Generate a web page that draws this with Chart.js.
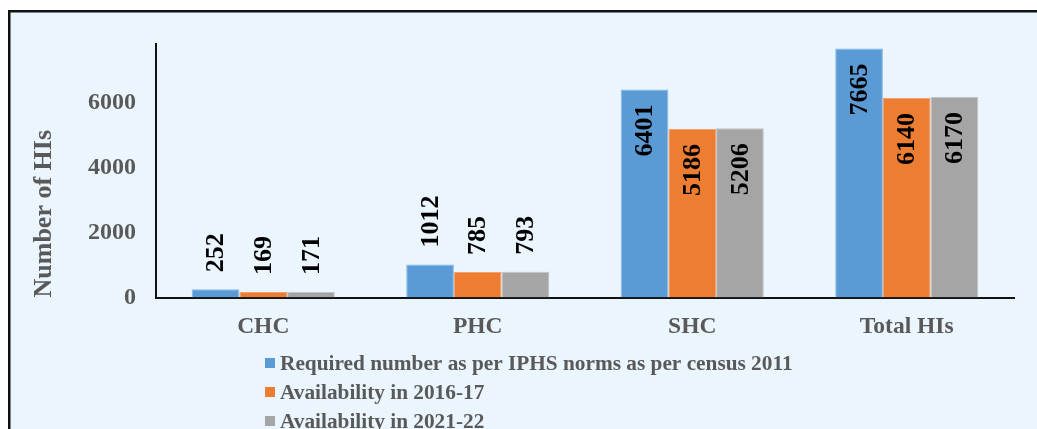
<!DOCTYPE html>
<html>
<head>
<meta charset="utf-8">
<script src="https://cdn.jsdelivr.net/npm/chart.js@4/dist/chart.umd.min.js"></script>
<style>
  html, body { margin: 0; padding: 0; background: #ffffff; }
  #wrap { width: 1037px; height: 429px; position: relative; }
</style>
</head>
<body>
<div id="wrap"><canvas id="c" width="1037" height="429"></canvas></div>
<script>
// ---- data ----
const categories = ["CHC", "PHC", "SHC", "Total HIs"];
const requiredIPHS = [252, 1012, 6401, 7665];
const avail201617 = [169, 785, 5186, 6140];
const avail202122 = [171, 793, 5206, 6170];
const seriesNames = [
  "Required number as per IPHS norms as per census 2011",
  "Availability in 2016-17",
  "Availability in 2021-22"
];
const yTicks = [0, 2000, 4000, 6000];

// ---- style ----
const FONT = "'Liberation Serif', 'Times New Roman', serif";
const GREY = "#595959";
const colors = ["#5B9BD5", "#ED7D31", "#A5A5A5"];
const edgeColors = ["#8DB9E4", "#F2A06E", "#C2C2C2"];
const labelInside = [false, false, true, true];

const framePlugin = {
  id: 'frame',
  beforeDraw(chart) {
    const ctx = chart.ctx;
    ctx.save();
    ctx.fillStyle = '#ffffff';
    ctx.fillRect(0, 0, chart.width, chart.height);
    ctx.fillStyle = '#EAF5FD';
    ctx.fillRect(10, 12, chart.width, chart.height);
    ctx.strokeStyle = '#111111';
    ctx.lineWidth = 2.5;
    ctx.beginPath();
    ctx.moveTo(9.25, chart.height + 5);
    ctx.lineTo(9.25, 11.25);
    ctx.lineTo(chart.width + 5, 11.25);
    ctx.stroke();
    ctx.restore();
  }
};

const barLabelPlugin = {
  id: 'barLabels',
  afterDatasetsDraw(chart) {
    const ctx = chart.ctx;
    ctx.save();
    ctx.font = "bold 26px " + FONT;
    ctx.fillStyle = '#000000';
    ctx.textBaseline = 'middle';
    chart.data.datasets.forEach((ds, di) => {
      const meta = chart.getDatasetMeta(di);
      meta.data.forEach((bar, i) => {
        const txt = String(ds.data[i]);
        ctx.save();
        if (labelInside[i]) {
          ctx.translate(bar.x, bar.y + 15);
          ctx.rotate(-Math.PI / 2);
          ctx.textAlign = 'right';
        } else {
          ctx.translate(bar.x, bar.y - 17);
          ctx.rotate(-Math.PI / 2);
          ctx.textAlign = 'left';
        }
        ctx.fillText(txt, 0, 1);
        ctx.restore();
      });
    });
    ctx.restore();
  }
};

const legendPlugin = {
  id: 'customLegend',
  afterDraw(chart) {
    const ctx = chart.ctx;
    ctx.save();
    ctx.font = "bold 21.3px " + FONT;
    ctx.textBaseline = 'middle';
    ctx.textAlign = 'left';
    const rowsY = [363, 392, 421];
    chart.data.datasets.forEach((ds, di) => {
      const y = rowsY[di];
      ctx.fillStyle = ds.backgroundColor;
      ctx.fillRect(265, y - 5, 10, 10);
      ctx.fillStyle = GREY;
      ctx.fillText(ds.label, 280, y + 1);
    });
    ctx.restore();
  }
};

const chart = new Chart(document.getElementById('c'), {
  type: 'bar',
  data: {
    labels: categories,
    datasets: [
      { label: seriesNames[0], data: requiredIPHS, backgroundColor: colors[0], borderColor: edgeColors[0], borderWidth: 1 },
      { label: seriesNames[1], data: avail201617, backgroundColor: colors[1], borderColor: edgeColors[1], borderWidth: 1 },
      { label: seriesNames[2], data: avail202122, backgroundColor: colors[2], borderColor: edgeColors[2], borderWidth: 1 }
    ]
  },
  options: {
    responsive: false,
    animation: false,
    devicePixelRatio: 1,
    layout: { padding: { left: 0, right: 23, top: 44, bottom: 0 } },
    datasets: { bar: { categoryPercentage: 0.667, barPercentage: 1.0 } },
    plugins: {
      legend: { display: false },
      tooltip: { enabled: false }
    },
    scales: {
      x: {
        grid: { display: false, drawTicks: false },
        border: { display: true, color: '#111111', width: 2 },
        ticks: { color: GREY, font: { family: FONT, size: 23.5, weight: 'bold' }, padding: 15 },
        afterFit(scale) { scale.height = 131.5; }
      },
      y: {
        min: 0,
        max: 7800,
        grid: { display: false, drawTicks: false },
        border: { display: true, color: '#111111', width: 2 },
        ticks: {
          stepSize: 2000, color: GREY, font: { family: FONT, size: 24, weight: 'bold' }, padding: 20,
          callback: (v) => String(v)
        },
        afterBuildTicks(scale) { scale.ticks = yTicks.map(v => ({ value: v })); },
        title: {
          display: true,
          text: 'Number of HIs',
          align: 'start',
          color: GREY,
          font: { family: FONT, size: 26, weight: 'bold' },
          padding: { top: 29, bottom: 0 }
        },
        afterFit(scale) { scale.width = 156; }
      }
    }
  },
  plugins: [framePlugin, barLabelPlugin, legendPlugin]
});
</script>
</body>
</html>
